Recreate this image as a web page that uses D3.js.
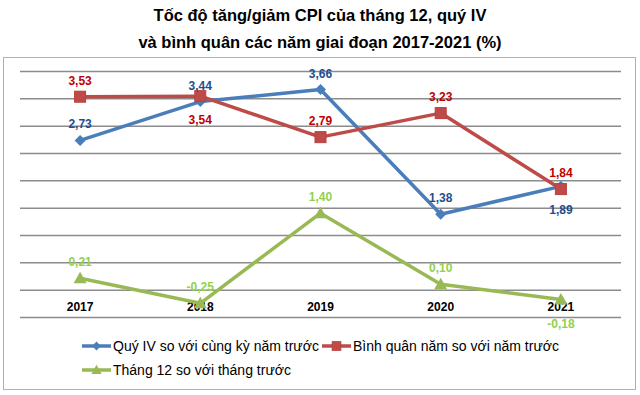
<!DOCTYPE html>
<html>
<head>
<meta charset="utf-8">
<script src="https://cdn.jsdelivr.net/npm/d3@7"></script>
<style>
  body { margin: 0; background: #fff; }
  svg { display: block; font-family: "Liberation Sans", Arial, sans-serif; }
</style>
</head>
<body>
<svg id="chart" width="640" height="395"></svg>
<script>
const years = ["2017", "2018", "2019", "2020", "2021"];
const quyIV = [2.73, 3.44, 3.66, 1.38, 1.89];
const binhQuan = [3.53, 3.54, 2.79, 3.23, 1.84];
const thang12 = [0.21, -0.25, 1.40, 0.10, -0.18];
const yTicks = [-0.5, 0, 0.5, 1, 1.5, 2, 2.5, 3, 3.5, 4];

const titleLines = [
    "Tốc độ tăng/giảm CPI của tháng 12, quý IV",
    "và bình quân các năm giai đoạn 2017-2021 (%)"
];

// which side of the point each data label sits on
const series = [
    { name: "Quý IV so với cùng kỳ năm trước", values: quyIV, line: "#4a7ebb", label: "#1f4e8c",
      marker: "diamond", side: ["up", "up", "up", "up", "down"] },
    { name: "Bình quân năm so với năm trước", values: binhQuan, line: "#be4b48", label: "#c00000",
      marker: "square", side: ["up", "down", "up", "up", "up"] },
    { name: "Tháng 12 so với tháng trước", values: thang12, line: "#98b954", label: "#92d050",
      marker: "triangle", side: ["up", "up", "up", "up", "down"] }
];

const svg = d3.select("#chart");
const plot = { left: 20, right: 621, top: 71, bottom: 317 };

// outer chart border
svg.append("rect")
    .attr("x", 3.5).attr("y", 57.5)
    .attr("width", 632).attr("height", 332)
    .attr("fill", "none")
    .attr("stroke", "#b0b0b0")
    .attr("stroke-width", 1);

// title
svg.append("g").selectAll("text")
    .data(titleLines)
    .enter()
    .append("text")
    .attr("x", 320)
    .attr("y", (d, i) => 21 + i * 27)
    .attr("text-anchor", "middle")
    .attr("font-size", "16.5px")
    .attr("font-weight", "bold")
    .attr("fill", "#000")
    .text(d => d);

const x = d3.scaleBand().domain(years).range([plot.left, plot.right]);
const cx = d => x(d) + x.bandwidth() / 2;
const y = d3.scaleLinear().domain([-0.5, 4]).range([plot.bottom, plot.top]);

// horizontal gridlines
svg.append("g")
    .attr("transform", `translate(${ plot.left },0)`)
    .call(d3.axisLeft(y).tickValues(yTicks).tickSize(-(plot.right - plot.left)).tickFormat(""))
    .call(g => g.select(".domain").remove())
    .call(g => g.selectAll(".tick line").attr("stroke", "#8c8c8c").attr("stroke-width", 1.5));

// category labels sit under the zero line
svg.append("g")
    .attr("transform", `translate(0,${ y(0) })`)
    .call(d3.axisBottom(x).tickSize(0).tickPadding(13))
    .call(g => g.select(".domain").remove())
    .call(g => g.selectAll("text")
        .attr("font-family", "Liberation Sans, Arial, sans-serif")
        .attr("font-size", "12px")
        .attr("font-weight", "bold")
        .attr("fill", "#000"));

const fmt = v => d3.format(".2f")(v).replace("−", "-").replace(".", ",");

function drawMarker(sel, type, color) {
    if (type === "diamond") {
        sel.append("path")
            .attr("d", "M0,-5.5L5.5,0L0,5.5L-5.5,0Z")
            .attr("fill", color);
    } else if (type === "square") {
        sel.append("rect")
            .attr("x", -5.5).attr("y", -5.5).attr("width", 11).attr("height", 11)
            .attr("fill", color)
            .attr("stroke", "#b8403d").attr("stroke-width", 1);
    } else {
        sel.append("path")
            .attr("d", "M0,-6.5L6.5,5L-6.5,5Z")
            .attr("fill", color);
    }
}

const line = d3.line()
    .x((d, i) => cx(years[i]))
    .y(d => y(d));

series.forEach(s => {
    const g = svg.append("g");
    g.append("path")
        .datum(s.values)
        .attr("d", line)
        .attr("fill", "none")
        .attr("stroke", s.line)
        .attr("stroke-width", 3.5)
        .attr("stroke-linejoin", "round");

    g.selectAll("g.pt")
        .data(s.values)
        .enter()
        .append("g")
        .attr("class", "pt")
        .attr("transform", (d, i) => `translate(${ cx(years[i]) },${ y(d) })`)
        .each(function () { drawMarker(d3.select(this), s.marker, s.line); });
});

// data labels drawn last so lines don't cover them
series.forEach(s => {
    svg.append("g").selectAll("text")
        .data(s.values)
        .enter()
        .append("text")
        .attr("x", (d, i) => cx(years[i]))
        .attr("y", (d, i) => y(d) + (s.side[i] === "up" ? -12 : 28))
        .attr("text-anchor", "middle")
        .attr("font-size", "12px")
        .attr("font-weight", "bold")
        .attr("fill", s.label)
        .text(d => fmt(d));
});

// legend
const legendItems = [
    { s: series[0], x: 82, y: 346 },
    { s: series[1], x: 322, y: 346 },
    { s: series[2], x: 82, y: 370 }
];
const legend = svg.append("g").selectAll("g")
    .data(legendItems)
    .enter()
    .append("g")
    .attr("transform", d => `translate(${ d.x },${ d.y })`);

legend.append("line")
    .attr("x1", 0).attr("x2", 29)
    .attr("stroke", d => d.s.line)
    .attr("stroke-width", 3.5);
legend.append("g")
    .attr("transform", "translate(14.5,0) scale(0.8)")
    .each(function (d) { drawMarker(d3.select(this), d.s.marker, d.s.line); });
legend.append("text")
    .attr("x", 31)
    .attr("dy", "0.35em")
    .attr("font-size", "14px")
    .attr("fill", "#000")
    .text(d => d.s.name);
</script>
</body>
</html>
